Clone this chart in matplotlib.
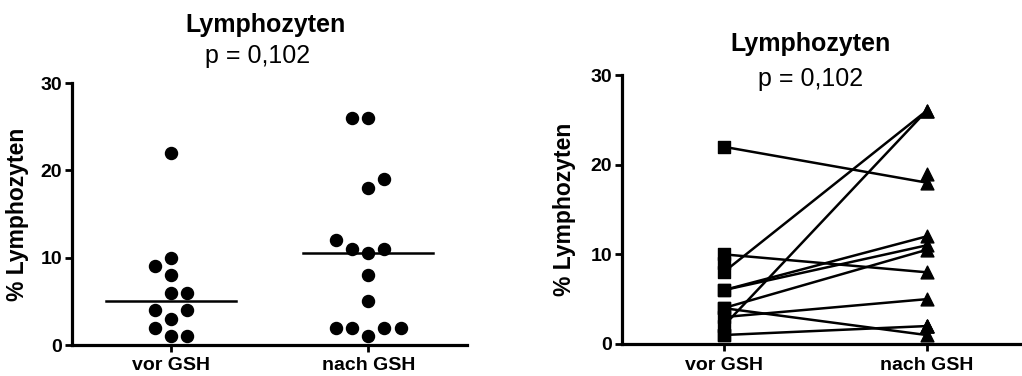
import numpy as np
import matplotlib
matplotlib.use('Agg')
import matplotlib.pyplot as plt

plt.rcParams['font.family'] = ['Liberation Sans', 'DejaVu Sans']

# Data
groups = ['vor GSH', 'nach GSH']
vor = [22, 10, 9, 8, 6, 6, 4, 4, 3, 2, 1, 1]
nach = [26, 26, 19, 18, 12, 11, 10.5, 11, 8, 5, 2, 2, 2, 2, 1]
# column slot of each dot in the scatter (beeswarm layout)
vor_slot = [0, 0, -1, 0, 0, 1, -1, 1, 0, -1, 0, 1]
nach_slot = [-1, 0, 1, 0, -2, -1, 0, 1, 0, 0, -2, -1, 1, 2, 0]

# paired values (NaN = no partner)
pair_vor = [22, 10, 8, 6, 6, 4, 3, 4, 2, 1, 9, 1, np.nan, np.nan, np.nan]
pair_nach = [18, 8, 26, 12, 11, 10.5, 5, 1, 26, 2, np.nan, np.nan, 19, 2, 2]

title = 'Lymphozyten'
p_text = 'p = 0,102'
ylab = '% Lymphozyten'

fig = plt.figure(figsize=(10.22, 3.76), dpi=100)
ax1 = fig.add_axes([72 / 1022, 31 / 376, 395 / 1022, 262 / 376])
ax2 = fig.add_axes([622 / 1022, 32 / 376, 406 / 1022, 269 / 376])


def style(ax):
    ax.set_xlim(-0.5, 1.5)
    ax.set_ylim(0, 30)
    ax.set_yticks([0, 10, 20, 30])
    ax.set_xticks([0, 1])
    ax.set_xticklabels(groups)
    for s in ['top', 'right']:
        ax.spines[s].set_visible(False)
    for s in ['left', 'bottom']:
        ax.spines[s].set_linewidth(2.3)
    ax.tick_params(axis='both', direction='out', length=5, width=2,
                   labelsize=14, pad=2)
    ax.tick_params(axis='x', pad=4)
    for lab in ax.get_xticklabels() + ax.get_yticklabels():
        lab.set_fontweight('bold')
    ax.set_ylabel(ylab, fontsize=16.5, fontweight='bold')


# left: scatter with medians
dx = 0.082
ax1.scatter(0 + np.array(vor_slot) * dx, vor, s=75, color='black', zorder=3, clip_on=False)
ax1.scatter(1 + np.array(nach_slot) * dx, nach, s=75, color='black', zorder=3, clip_on=False)
for i, vals in enumerate([vor, nach]):
    m = np.median(vals)
    ax1.plot([i - 0.33, i + 0.33], [m, m], color='black', lw=1.8, zorder=2)
style(ax1)
ax1.yaxis.set_label_coords(-0.11, 0.5)
ax1.text(0.49, 1.195, title, transform=ax1.transAxes, ha='center', va='baseline',
         fontsize=18, fontweight='bold')
ax1.text(0.47, 1.076, p_text, transform=ax1.transAxes, ha='center', va='baseline',
         fontsize=18)

# right: before/after lines
for a, b in zip(pair_vor, pair_nach):
    if not np.isnan(a) and not np.isnan(b):
        ax2.plot([0, 1], [a, b], color='black', lw=1.8, zorder=2)
ax2.scatter(np.zeros(len(pair_vor)), pair_vor, marker='s', s=70, color='black',
            zorder=3, clip_on=False)
ax2.scatter(np.ones(len(pair_nach)), pair_nach, marker='^', s=85, color='black',
            zorder=3, clip_on=False)
style(ax2)
ax2.yaxis.set_label_coords(-0.113, 0.5)
ax2.text(0.465, 1.09, title, transform=ax2.transAxes, ha='center', va='baseline',
         fontsize=18, fontweight='bold')
ax2.text(0.465, 0.96, p_text, transform=ax2.transAxes, ha='center', va='baseline',
         fontsize=18)

fig.savefig('out.png', dpi=100)
